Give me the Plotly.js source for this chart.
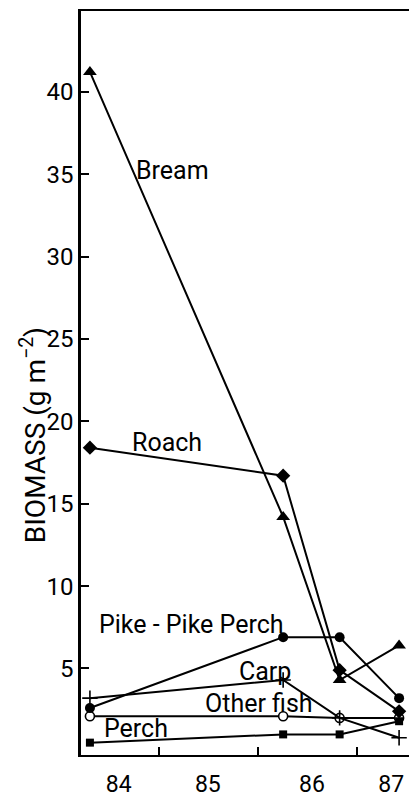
<!DOCTYPE html>
<html>
<head>
<meta charset="utf-8">
<script src="https://cdn.plot.ly/plotly-3.0.1.min.js"></script>
<style>
html,body{margin:0;padding:0;background:#fff;}
#chart{width:409px;height:798px;}
</style>
</head>
<body>
<div id="chart"></div>
<script>
// Sampling dates (decimal years)
var sampleYears = [1984.30, 1986.25, 1986.82, 1987.42];

// Biomass (g m^-2) per group
var bream      = [41.2, 14.2, 4.3, 6.4];
var roach      = [18.4, 16.7, 4.9, 2.4];
var pikePerch  = [2.6, 6.9, 6.9, 3.2];
var carp       = [3.2, 4.3, 2.0, 0.8];
var otherFish  = [2.1, 2.1, 2.0, 2.0];
var perch      = [0.5, 1.0, 1.0, 1.8];

var seriesNames = ["Bream", "Roach", "Pike - Pike Perch", "Carp", "Other fish", "Perch"];

// Axis ticks
var yTickVals = [5, 10, 15, 20, 25, 30, 35, 40];
var xTickVals = [1985, 1986, 1987];
var xLabelVals = [1984.59, 1985.49, 1986.54, 1987.34];
var xLabelText = ["84", "85", "86", "87"];
var yTitle = "BIOMASS (g m<sup>\u22122</sup>)";

var FONT = "Roboto, 'DejaVu Sans', sans-serif";
var BLACK = "#000";

function trace(name, y, symbol, size, open) {
  return {
    type: "scatter",
    mode: "lines+markers",
    name: name,
    x: sampleYears,
    y: y,
    line: {color: BLACK, width: 2},
    marker: {
      symbol: symbol,
      size: size,
      color: open ? "#fff" : BLACK,
      line: {color: BLACK, width: open ? 1.6 : 0}
    },
    cliponaxis: false,
    showlegend: false
  };
}

var data = [
  trace(seriesNames[4], otherFish, "circle", 9, true),
  trace(seriesNames[5], perch, "square", 8, false),
  trace(seriesNames[3], carp, "cross-thin", 11, true),
  trace(seriesNames[2], pikePerch, "circle", 10, false),
  trace(seriesNames[1], roach, "diamond", 11, false),
  trace(seriesNames[0], bream, "triangle-up", 12, false),
  {type: "scatter", mode: "markers", x: [1985], y: [-10], xaxis: "x2", yaxis: "y", showlegend: false, hoverinfo: "skip", marker: {opacity: 0}}
];

function ann(text, x, y) {
  return {text: text, x: x, y: y, xref: "x", yref: "y", showarrow: false,
          font: {family: FONT, size: 25, color: BLACK}, xanchor: "center", yanchor: "middle"};
}

var anns = [
  ann(seriesNames[0], 1985.13, 35.2),
  ann(seriesNames[1], 1985.08, 18.7),
  ann(seriesNames[2], 1985.33, 7.7),
  ann(seriesNames[3], 1986.07, 4.8),
  ann(seriesNames[4], 1986.01, 2.9),
  ann(seriesNames[5], 1984.76, 1.35),
  {text: yTitle, xref: "paper", yref: "paper", x: -0.146, y: 0.43, showarrow: false,
   textangle: -90, font: {family: FONT, size: 28, color: BLACK}, xanchor: "center", yanchor: "middle"}
];

var layout = {
  width: 409, height: 798,
  margin: {l: 81, r: 0, t: 11, b: 43},
  paper_bgcolor: "#fff", plot_bgcolor: "#fff",
  font: {family: FONT, color: BLACK},
  showlegend: false,
  xaxis: {
    range: [1984.21, 1987.52],
    tickvals: xTickVals,
    showticklabels: false,
    ticks: "inside", ticklen: 8, tickwidth: 2, tickcolor: BLACK,
    showline: true, linewidth: 2.2, linecolor: BLACK, mirror: true,
    showgrid: false, zeroline: false
  },
  xaxis2: {
    overlaying: "x", anchor: "y", side: "bottom",
    range: [1984.21, 1987.52],
    tickvals: xLabelVals, ticktext: xLabelText,
    ticks: "", showline: false, showgrid: false, zeroline: false,
    tickfont: {family: FONT, size: 23, color: BLACK},
    ticklabelstandoff: 13
  },
  yaxis: {
    range: [-0.25, 44.9],
    tickvals: yTickVals,
    ticks: "inside", ticklen: 8, tickwidth: 2, tickcolor: BLACK,
    showline: true, linewidth: 2.6, linecolor: BLACK,
    showgrid: false, zeroline: false,
    tickfont: {family: FONT, size: 24, color: BLACK}
  },
  annotations: anns
};

Plotly.newPlot("chart", data, layout, {staticPlot: true, displayModeBar: false});
</script>
</body>
</html>
